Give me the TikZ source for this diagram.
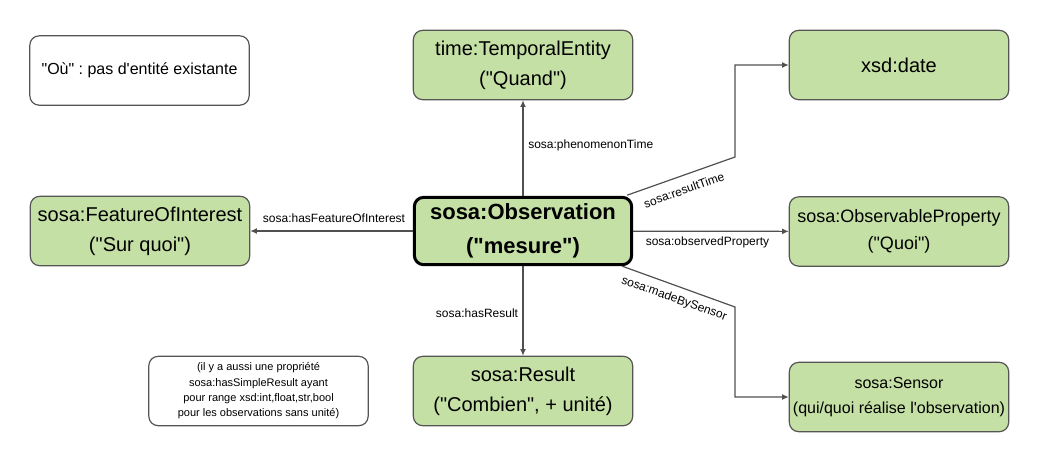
\documentclass[tikz,border=0pt]{standalone}
\usepackage{fontspec}
\setmainfont{Liberation Sans}[Ligatures=TeXOff]
\frenchspacing
\usetikzlibrary{arrows.meta}
\definecolor{boxgreen}{RGB}{197,224,165}
\definecolor{boxline}{RGB}{85,85,85}
\definecolor{linkgray}{RGB}{80,80,80}

\begin{document}
\begin{tikzpicture}[x=0.75pt,y=-0.75pt,
  box/.style={draw=boxline, line width=0.9pt, rounded corners=7pt,
    minimum width=164.5pt, minimum height=52pt, inner sep=0pt,
    align=center, font=\fontsize{15}{22.5}\selectfont},
  concept/.style={box, fill=boxgreen},
  remark/.style={box, fill=white},
  link/.style={draw=linkgray, line width=0.9pt, -{Latex[length=5pt,width=4.5pt]}},
  lbl/.style={font=\fontsize{9}{11}\selectfont, inner sep=0pt, text=black},
]
\useasboundingbox (0,0) rectangle (1039,462);

% side remarks
\node[remark, font=\fontsize{12}{18}\selectfont] (where) at (139.5,70.5) {"Où" : pas d'entité existante};
\node[remark, font=\fontsize{8.25}{11.5}\selectfont] (simple) at (258.5,391)
  {(il y a aussi une propriété\\sosa:hasSimpleResult ayant\\pour range xsd:int,float,str,bool\\pour les observations sans unité)};

% concepts
\node[concept] (time) at (523,65) {time:TemporalEntity\\("Quand")};
\node[concept] (xsd) at (899,65) {xsd:date};
\node[concept] (foi) at (140,231) {sosa:FeatureOfInterest\\("Sur quoi")};
\node[concept, draw=black, line width=2.25pt, font=\bfseries\fontsize{16.5}{25.5}\selectfont,
  minimum width=163pt, minimum height=50.5pt] (obs) at (523,231) {sosa:Observation\\("mesure")};
\node[concept, font=\fontsize{13.5}{20.25}\selectfont] (prop) at (899,231.5) {sosa:ObservableProperty\\("Quoi")};
\node[concept] (result) at (523,391) {sosa:Result\\("Combien", + unité)};
\node[concept, font=\fontsize{12}{18.75}\selectfont] (sensor) at (899,397) {sosa:Sensor\\(qui/quoi réalise l'observation)};

% bends of the routed links
\coordinate (rtbend) at (735,157);
\coordinate (sbend) at (735,307);

% links
\draw[link] (obs) -- (time);
\draw[link] (obs) -- (foi);
\draw[link] (obs) -- (prop);
\draw[link] (obs) -- (result);
\draw[link] ([xshift=-4.5pt,yshift=0.5pt]obs.north east) -- (rtbend) |- (xsd.west);
\draw[link] ([xshift=-8.25pt]obs.south east) -- (sbend) |- (sensor.west);

% link labels
\node[lbl, anchor=west] (lpt) at (528,145) {sosa:phenomenonTime};
\node[lbl] (lfoi) at (334,218.5) {sosa:hasFeatureOfInterest};
\node[lbl] (lop) at (707.5,242.5) {sosa:observedProperty};
\node[lbl] (lhr) at (477,313) {sosa:hasResult};
\node[lbl, rotate=19.4] (lrt) at (684,190) {sosa:resultTime};
\node[lbl, rotate=-19.7] (lmbs) at (674,299) {sosa:madeBySensor};
\end{tikzpicture}
\end{document}
